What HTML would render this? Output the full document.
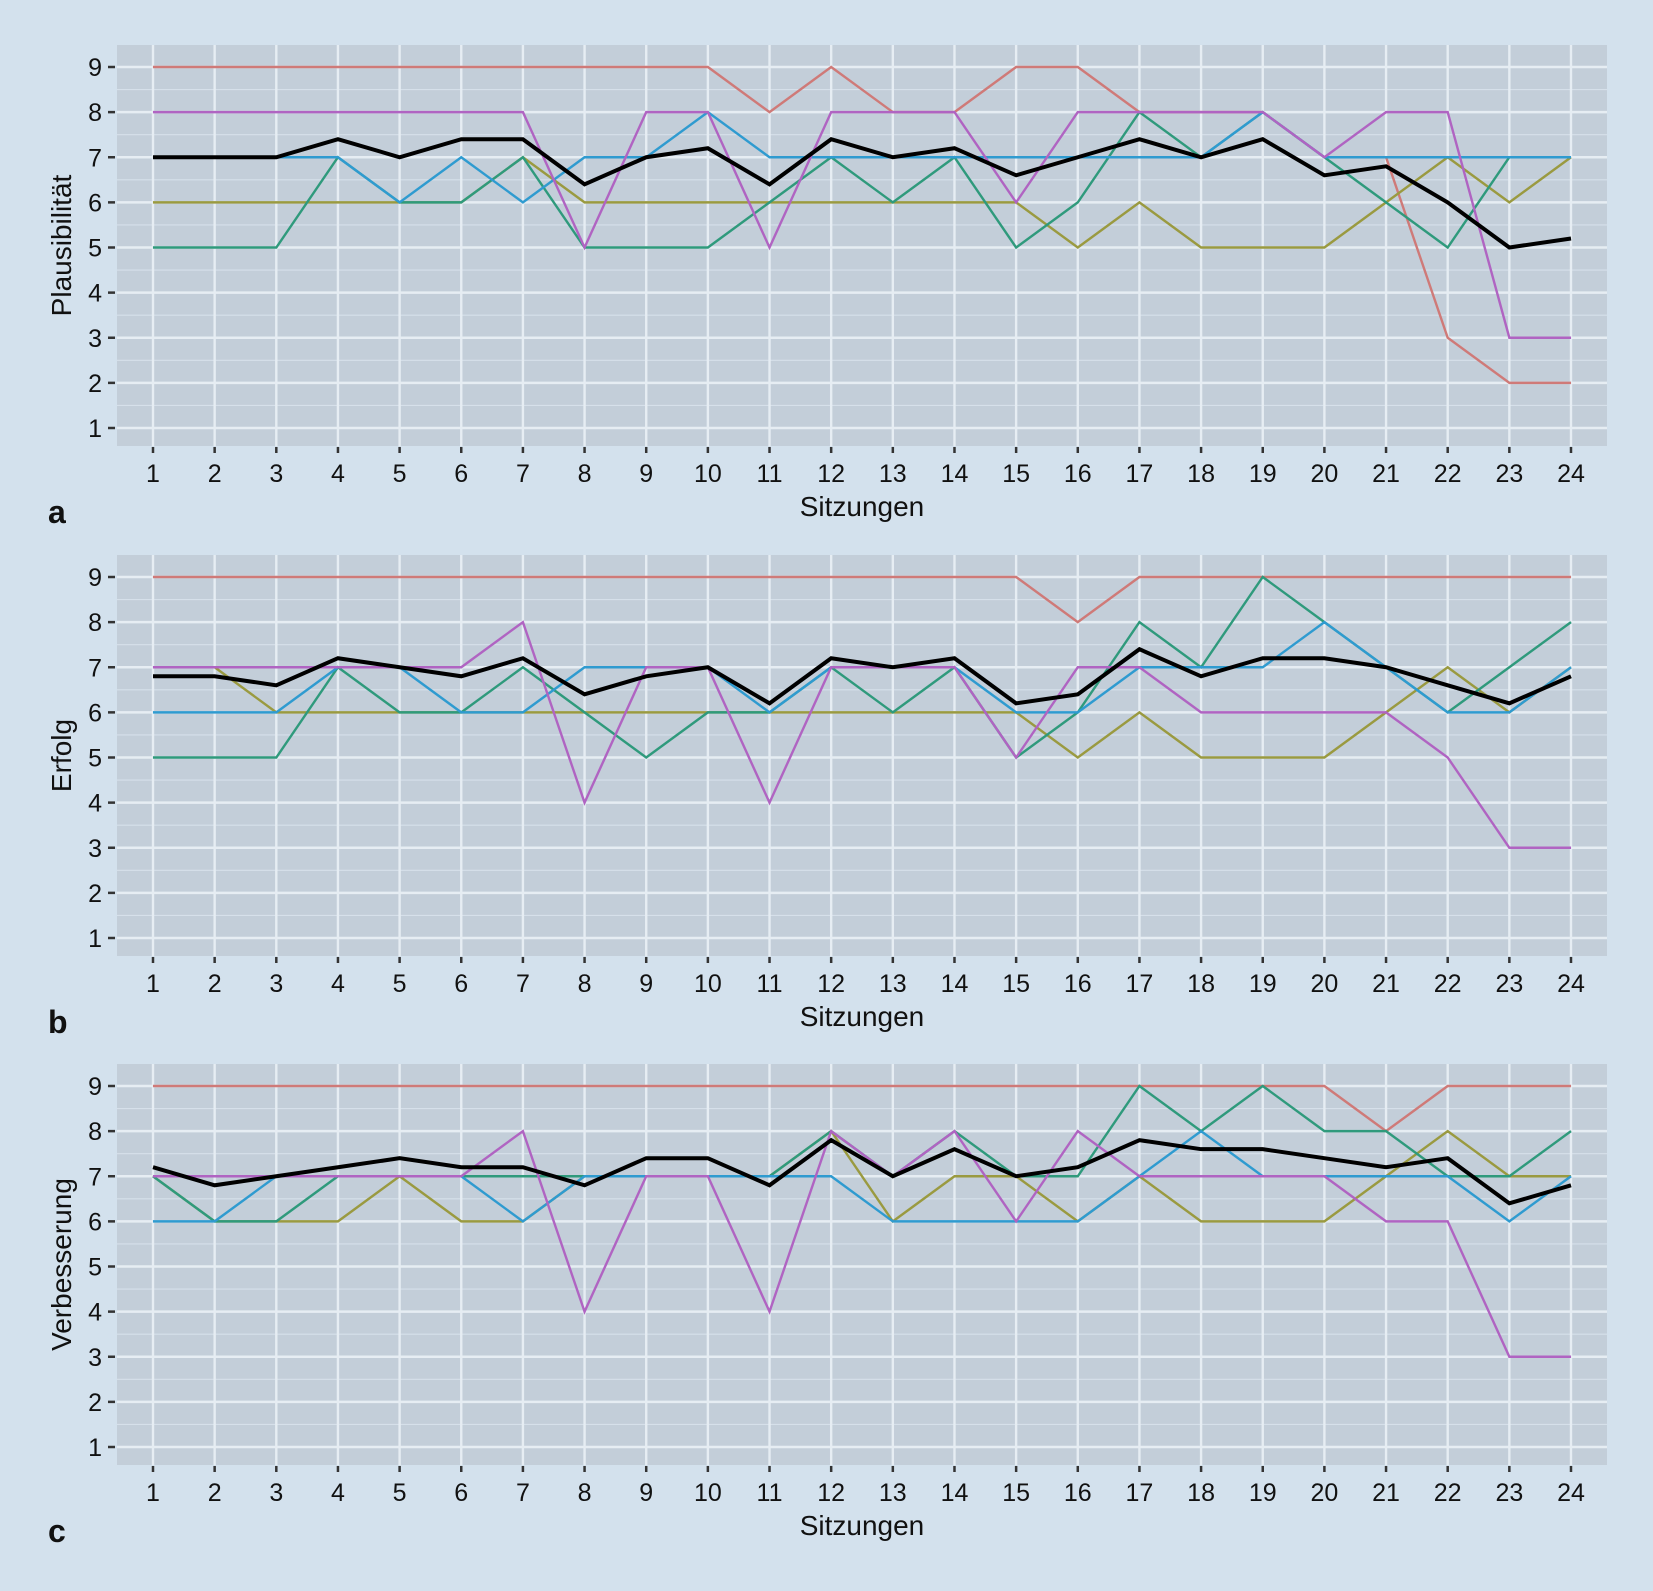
<!DOCTYPE html>
<html><head><meta charset="utf-8"><style>
html,body{margin:0;padding:0;background:#d3e1ed;}
svg{display:block;font-family:"Liberation Sans",sans-serif;}
</style></head><body>
<svg id="chart" width="1653" height="1591" viewBox="0 0 1653 1591">
<rect x="0" y="0" width="1653" height="1591" fill="#d3e1ed"/>
</svg>
<script>
const sessions = [1,2,3,4,5,6,7,8,9,10,11,12,13,14,15,16,17,18,19,20,21,22,23,24];
const yTicks = [1,2,3,4,5,6,7,8,9];
const panelTitles = ["Plausibilität","Erfolg","Verbesserung"];
const panelLetters = ["a","b","c"];
const seriesNames = ["red","olive","green","blue","purple","mean"];
const seriesColors = ["#cf7a78","#9a9a40","#2f9a7c","#2f9bd0","#b064c2","#000000"];
const aRed =   [9,9,9,9,9,9,9,9,9,9,8,9,8,8,9,9,8,8,8,7,7,3,2,2];
const aOlive = [6,6,6,6,6,6,7,6,6,6,6,6,6,6,6,5,6,5,5,5,6,7,6,7];
const aGreen = [5,5,5,7,6,6,7,5,5,5,6,7,6,7,5,6,8,7,8,7,6,5,7,7];
const aBlue =  [7,7,7,7,6,7,6,7,7,8,7,7,7,7,7,7,7,7,8,7,7,7,7,7];
const aPurple =[8,8,8,8,8,8,8,5,8,8,5,8,8,8,6,8,8,8,8,7,8,8,3,3];
const aMean =  [7,7,7,7.4,7,7.4,7.4,6.4,7,7.2,6.4,7.4,7,7.2,6.6,7,7.4,7,7.4,6.6,6.8,6,5,5.2];
const bRed =   [9,9,9,9,9,9,9,9,9,9,9,9,9,9,9,8,9,9,9,9,9,9,9,9];
const bOlive = [7,7,6,6,6,6,6,6,6,6,6,6,6,6,6,5,6,5,5,5,6,7,6,7];
const bGreen = [5,5,5,7,6,6,7,6,5,6,6,7,6,7,5,6,8,7,9,8,7,6,7,8];
const bBlue =  [6,6,6,7,7,6,6,7,7,7,6,7,7,7,6,6,7,7,7,8,7,6,6,7];
const bPurple =[7,7,7,7,7,7,8,4,7,7,4,7,7,7,5,7,7,6,6,6,6,5,3,3];
const bMean =  [6.8,6.8,6.6,7.2,7,6.8,7.2,6.4,6.8,7,6.2,7.2,7,7.2,6.2,6.4,7.4,6.8,7.2,7.2,7,6.6,6.2,6.8];
const cRed =   [9,9,9,9,9,9,9,9,9,9,9,9,9,9,9,9,9,9,9,9,8,9,9,9];
const cOlive = [7,6,6,6,7,6,6,7,7,7,7,8,6,7,7,6,7,6,6,6,7,8,7,7];
const cGreen = [7,6,6,7,7,7,7,7,7,7,7,8,7,8,7,7,9,8,9,8,8,7,7,8];
const cBlue =  [6,6,7,7,7,7,6,7,7,7,7,7,6,6,6,6,7,8,7,7,7,7,6,7];
const cPurple =[7,7,7,7,7,7,8,4,7,7,4,8,7,8,6,8,7,7,7,7,6,6,3,3];
const cMean =  [7.2,6.8,7,7.2,7.4,7.2,7.2,6.8,7.4,7.4,6.8,7.8,7,7.6,7,7.2,7.8,7.6,7.6,7.4,7.2,7.4,6.4,6.8];
const panelData = [[aRed,aOlive,aGreen,aBlue,aPurple,aMean],[bRed,bOlive,bGreen,bBlue,bPurple,bMean],[cRed,cOlive,cGreen,cBlue,cPurple,cMean]];

const NS="http://www.w3.org/2000/svg";
const svg=document.getElementById('chart');
function mk(tag,attrs,parent){const e=document.createElementNS(NS,tag);for(const k in attrs)e.setAttribute(k,attrs[k]);(parent||svg).appendChild(e);return e;}
const left=117,right=1607,x1=153,x24=1571;
const xScale=s=>x1+(s-1)*(x24-x1)/23;
const offsets=[0,510,1019];
panelData.forEach((series,p)=>{
  const o=offsets[p];
  const top=45+o,bot=446+o,y9=67+o,y1=428+o;
  const yScale=v=>y1+(v-1)*(y9-y1)/8;
  const g=mk('g',{});
  
  
  const bg=mk('rect',{x:left,y:top,width:right-left,height:bot-top,fill:'#c3ced9'},g);
  
  
  for(let v=0.5;v<=9.5;v+=1){const y=yScale(v);if(y<top||y>bot)continue;
    const l=mk('line',{x1:left,x2:right,y1:y,y2:y,stroke:'#d6e0ea','stroke-width':1.2},g);
    }
  yTicks.forEach(t=>{const y=yScale(t);
    const l=mk('line',{x1:left,x2:right,y1:y,y2:y,stroke:'#e6edf3','stroke-width':2.4},g);
    
    const tk=mk('line',{x1:108,x2:115,y1:y,y2:y,stroke:'#333','stroke-width':2.5},g);
    
    const tx=mk('text',{x:102,y:y+9,'text-anchor':'end','font-size':25,fill:'#111'},g);
    tx.textContent=t;});
  sessions.forEach(s=>{const x=xScale(s);
    const l=mk('line',{x1:x,x2:x,y1:top,y2:bot,stroke:'#e6edf3','stroke-width':2.4},g);
    
    const tk=mk('line',{x1:x,x2:x,y1:bot+1,y2:bot+7,stroke:'#333','stroke-width':2.5},g);
    
    const tx=mk('text',{x:x,y:bot+36,'text-anchor':'middle','font-size':25,fill:'#111'},g);
    tx.textContent=s;});
  series.forEach((vals,i)=>{
    const pts=vals.map((v,k)=>xScale(sessions[k])+','+yScale(v)).join(' ');
    const pl=mk('polyline',{points:pts,fill:'none',stroke:seriesColors[i],'stroke-width':i===5?4:2.4,'stroke-linejoin':'miter'},g);
    
    });
  const xt=mk('text',{x:(left+right)/2,y:bot+70,'text-anchor':'middle','font-size':28,fill:'#111'},g);
  xt.textContent='Sitzungen';
  const cy=(top+bot)/2;
  const yt=mk('text',{x:0,y:0,'text-anchor':'middle','font-size':28,fill:'#111',transform:'translate(71,'+cy+') rotate(-90)'},g);
  yt.textContent=panelTitles[p];
  const lt=mk('text',{x:48,y:bot+77,'font-size':32,'font-weight':'bold',fill:'#111'},g);
  lt.textContent=panelLetters[p];
});
</script>
</body></html>
